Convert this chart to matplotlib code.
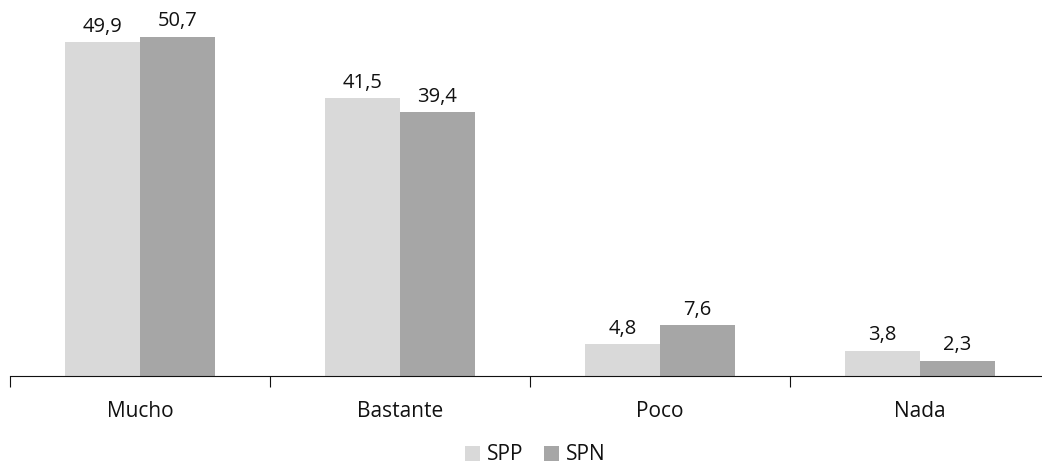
import numpy as np
import matplotlib.pyplot as plt

plt.rcParams['font.family'] = ['Open Sans', 'DejaVu Sans']

categories = ['Mucho', 'Bastante', 'Poco', 'Nada']
spp = [49.9, 41.5, 4.8, 3.8]
spn = [50.7, 39.4, 7.6, 2.3]

fig = plt.figure(figsize=(10.42, 4.68), dpi=100)
# axis spans x=10..1050 px, baseline at y=376 px
ax = fig.add_axes([10 / 1042, 1 - 376 / 468, 1040 / 1042, 55 * 6.69 / 468])

x = np.arange(len(categories))
w = 0.287
b1 = ax.bar(x - w / 2, spp, w, color='#d9d9d9', label='SPP')
b2 = ax.bar(x + w / 2, spn, w, color='#a6a6a6', label='SPN')

for bars, vals in ((b1, spp), (b2, spn)):
    for r, v in zip(bars, vals):
        ax.text(r.get_x() + r.get_width() / 2, v + 0.8, f'{v:.1f}'.replace('.', ','),
                ha='center', va='bottom', fontsize=14.5, color='#111111')

ax.set_xlim(-0.5, 3.5)
ax.set_ylim(0, 55)
for s in ('top', 'right', 'left'):
    ax.spines[s].set_visible(False)
ax.spines['bottom'].set_color('#111111')
ax.set_yticks([])
ax.set_xticks(np.arange(-0.5, 4.0, 1.0), minor=False)
ax.set_xticklabels([])
ax.tick_params(axis='x', which='major', length=8, color='#111111', direction='out')
ax.set_xticks(x, minor=True)
ax.set_xticklabels(categories, minor=True, fontsize=15, color='#111111')
ax.tick_params(axis='x', which='minor', length=0, pad=18)

fig.legend(loc='center', bbox_to_anchor=(535 / 1042, 1 - 455 / 468), ncol=2, frameon=False,
           fontsize=15, handlelength=0.75, handleheight=0.75, handletextpad=0.3,
           columnspacing=1.0, labelcolor='#111111')

fig.savefig('out.png', dpi=100)
